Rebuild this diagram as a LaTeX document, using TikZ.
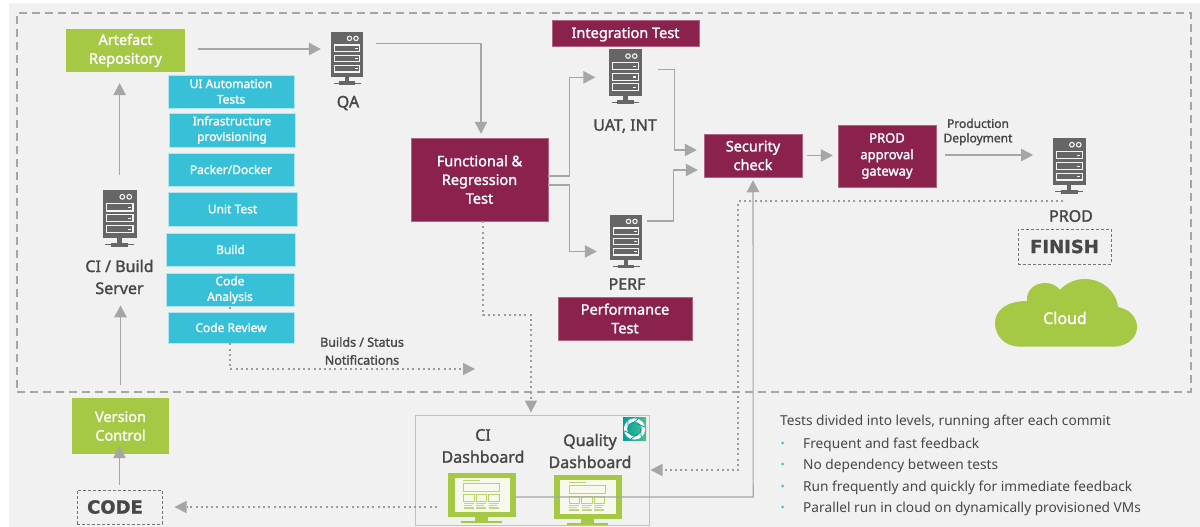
\documentclass[tikz,border=0pt]{standalone}
\usepackage{fontspec}
\setmainfont{Noto Sans}
\newfontfamily\semi[FakeBold=1.6]{Noto Sans}
\newfontfamily\heavy[FakeBold=1.2]{DejaVu Sans}
\usetikzlibrary{arrows.meta,calc}
\definecolor{bggray}{HTML}{F1F1F1}
\definecolor{linegray}{HTML}{A6A6A6}
\definecolor{dotgray}{HTML}{9C9C9C}
\definecolor{icongray}{HTML}{666666}
\definecolor{inkgray}{HTML}{474747}
\definecolor{lime}{HTML}{A5C845}
\definecolor{wine}{HTML}{8B214D}
\definecolor{cyanbox}{HTML}{38C0D8}
\newcommand{\fsize}[2]{\fontsize{#1}{#2}\selectfont}
\tikzset{
  x=1pt,y=-1pt,
  box/.style={inner sep=0pt,align=center,text=white,font=\semi\fsize{14.5}{18.7}},
  greenbox/.style={box,fill=lime},
  winebox/.style={box,fill=wine,draw=wine!70!white,line width=.5pt},
  cyan box/.style={box,fill=cyanbox,draw=cyanbox!40!white,line width=.6pt,font=\semi\fsize{12}{15.5}},
  darklabel/.style={inner sep=0pt,align=center,text=inkgray,font=\semi\fsize{16}{22}},
  smalllabel/.style={inner sep=0pt,align=center,text=inkgray,font=\semi\fsize{12}{14.5}},
  stepdash/.style={draw=icongray!90,densely dashed,line width=1pt,inner sep=0pt,text=inkgray,font=\heavy\bfseries\fsize{18}{20}},
  arr/.style={draw=linegray,line width=1.4pt,-{Triangle[length=12pt,width=12.5pt,fill=linegray]}},
  thin arr/.style={arr,line width=1.1pt},
  dotline/.style={draw=dotgray,line width=2pt,dash pattern=on 2pt off 3.2pt},
  dotarr/.style={dotline,-{Triangle[length=12pt,width=12.5pt,fill=linegray,line width=0pt]}},
  bullettext/.style={anchor=west,inner sep=0pt,text=inkgray,font=\fsize{13.7}{16}},
  dotb/.style={circle,fill=cyanbox,inner sep=0pt,minimum size=3pt},
  srvbox/.style={inner sep=0pt,minimum width=32pt,minimum height=54pt},
}
% server icon: left x, top y, scale, node name
\newcommand{\serverat}[4]{%
  \begin{scope}[shift={(#1,#2)},scale=#3]
    \fill[icongray] (0,0) rectangle (32,45);
    \foreach \yy in {13,23.2,33.4}{
      \draw[white!92!gray,line width=1.1pt] (3.5,\yy) rectangle (28.5,\yy+6.6);
      \fill[white!92!gray] (23.5,\yy+3) rectangle (26.5,\yy+4);
    }
    \draw[white!92!gray,line width=1.1pt] (18.5,6.4) circle (2.2);
    \draw[white!92!gray,line width=1.1pt] (25,6.4) circle (2.2);
    \fill[icongray] (14,45) rectangle (18,49.5);
    \fill[icongray] (8,49.5) rectangle (24,53);
    \fill[icongray] (2.5,50.7) rectangle (29.5,51.8);
    \coordinate (#4-nw) at (0,0);
    \coordinate (#4-se) at (32,54);
  \end{scope}%
  \node[srvbox] (#4) at ($(#4-nw)!.5!(#4-se)$) {};%
}
% monitor icon
\newcommand{\monitorat}[3]{%
  \begin{scope}[shift={(#1,#2)}]
    \fill[lime] (0,0) rectangle (68,44);
    \fill[lime] (27,44) rectangle (40,48);
    \fill[lime] (13,47.5) rectangle (54,50);
    \fill[white!90!lime] (6.5,4.5) rectangle (62,38.5);
    \fill[lime!80!white] (15,6.5) rectangle (32,8.2);
    \draw[lime!80!white,line width=.8pt] (15.5,10) rectangle (51.5,18);
    \foreach \xx in {15.5,28,40.5}{
      \draw[lime!80!white,line width=.8pt] (\xx,21) rectangle (\xx+10.7,28.5);
      \fill[lime!70!white] (\xx,30) rectangle (\xx+10,31.2);
      \fill[lime!70!white] (\xx,32.2) rectangle (\xx+8,33.4);
      \fill[lime!70!white] (\xx,34.4) rectangle (\xx+10,35.6);
    }
    \node[inner sep=0pt,minimum width=68pt,minimum height=50pt] (#3) at (34,25) {};
  \end{scope}%
}
\begin{document}
\begin{tikzpicture}
\useasboundingbox (0,0) rectangle (1200,527);
\fill[white] (0,0) rectangle (1200,527);
\fill[bggray] (9,3) rectangle (1200,527);
\node[draw=linegray,line width=1.4pt,dash pattern=on 8pt off 5pt,inner sep=0pt,minimum width=1174pt,minimum height=379pt] (zone) at (604,202.5) {};

% green boxes
\node[greenbox,minimum width=119pt,minimum height=43pt] (art) at (125.5,50.5) {Artefact\\Repository};
\node[greenbox,minimum width=97pt,minimum height=56pt] (vc) at (120.5,426) {Version\\Control};

% cyan stack
\node[cyan box,minimum width=126pt,minimum height=33pt] (ui) at (231,91.5) {UI Automation\\Tests};
\node[cyan box,minimum width=126pt,minimum height=34pt] (infra) at (232,130) {Infrastructure\\provisioning};
\node[cyan box,minimum width=126pt,minimum height=33pt] (packer) at (231,169.5) {Packer/Docker};
\node[cyan box,minimum width=129pt,minimum height=34pt] (unit) at (232.5,209) {Unit Test};
\node[cyan box,minimum width=129pt,minimum height=33pt] (build) at (230.5,249.5) {Build};
\node[cyan box,minimum width=128pt,minimum height=33pt] (ca) at (230,290) {Code\\Analysis};
\node[cyan box,minimum width=126pt,minimum height=31pt] (cr) at (231,327.5) {Code Review};

% wine boxes
\node[winebox,minimum width=137pt,minimum height=83pt] (func) at (479.5,179.5) {Functional \&\\Regression\\Test};
\node[winebox,minimum width=147pt,minimum height=26pt,text height=11.5pt,text depth=1.5pt] (integ) at (625.5,33) {Integration Test};
\node[winebox,minimum width=134pt,minimum height=43pt] (perft) at (625,318.5) {Performance\\Test};
\node[winebox,minimum width=98pt,minimum height=43pt] (sec) at (753,155.5) {Security\\check};
\node[winebox,minimum width=98pt,minimum height=62pt,font=\semi\fsize{13}{16.5}] (gate) at (887,156) {PROD\\approval\\gateway};

% servers
\serverat{331}{32}{1}{qa}
\serverat{102.5}{190}{1.07}{ci}
\serverat{609}{49.5}{1.03}{uat}
\serverat{610}{215}{1}{perf}
\serverat{1052.5}{138}{1.05}{prod}

% labels
\node[darklabel] (qal) at (348,103) {QA};
\node[darklabel] (cil) at (119.5,277) {CI / Build\\Server};
\node[darklabel] (uatl) at (625,126) {UAT, INT};
\node[darklabel] (perfl) at (627,284) {PERF};
\node[darklabel] (prodl) at (1071,216) {PROD};
\node[smalllabel] (deploy) at (978,132) {Production\\Deployment};
\node[smalllabel,font=\semi\fsize{12.5}{18}] (notif) at (362,351) {Builds / Status\\Notifications};

% dashed step boxes
\node[stepdash,minimum width=85pt,minimum height=34pt,text width=85pt,align=center] (code) at (119.5,507) {\hspace*{-9pt}CODE};
\node[stepdash,minimum width=93pt,minimum height=35pt,text width=93pt,align=center] (finish) at (1064.5,246.5) {FINISH};

% cloud
\path[fill=lime] (1020,346.7) .. controls (1005,346.7) and (995,336) .. (995,323)
  .. controls (995,310) and (1007,301) .. (1027,301)
  .. controls (1026,290) and (1035,283) .. (1045,283)
  .. controls (1052,283) and (1057,286) .. (1060,290)
  .. controls (1066,283) and (1075,279) .. (1085,279)
  .. controls (1102,279) and (1116,291) .. (1118,307)
  .. controls (1130,309) and (1137,318) .. (1137,327)
  .. controls (1137,338) and (1127,346.7) .. (1113,346.7) -- cycle;
\node[box,font=\semi\fsize{16}{20}] (cloud) at (1065,318) {Cloud};

% dashboard panel
\node[draw=linegray!70,fill=bggray,line width=1pt,inner sep=0pt,minimum width=234pt,minimum height=110pt] (dash) at (532,470) {};
\node[darklabel] (cid) at (483,446) {CI\\Dashboard};
\node[darklabel] (qd) at (590,451) {Quality\\Dashboard};
\monitorat{448}{473}{cim}
\monitorat{553.5}{475}{qm}
\shade[left color=teal!75!cyan,right color=teal!70!green!70!white] (623,417) rectangle (646,440);
\node[inner sep=0pt,minimum size=18pt,circle,draw=white,line width=3.2pt] (qicon) at (634.5,429) {};
\foreach \aa in {0,60,...,300}{
  \draw[teal!80!cyan,line width=.8pt] ($(qicon.center)+(\aa:6)$) -- ($(qicon.center)+(\aa+50:10.5)$);
}

% connectors
\coordinate (fbend) at (531,315);
\draw[arr,shorten <=13pt,shorten >=10pt] ([yshift=1.5pt]art.east) -- ([yshift=1.5pt]art.east -| qa.west);
\draw[arr,shorten <=17pt,shorten >=11pt] (ci.north) -- (ci.north |- art.south);
\draw[arr,shorten <=13pt,shorten >=11pt] (vc.north) -- (vc.north |- cil.south);
\draw[arr,shorten <=5pt,shorten >=-8pt] (code.north) -- (code.north |- vc.south);
\draw[thin arr,shorten >=4pt] ([xshift=13pt,yshift=15.5pt]qa.east) -| ([xshift=1.5pt]func.north);
\draw[thin arr,shorten >=14pt] ([yshift=3.5pt]func.east) -- ++(21,0) |- (uat.west);
\draw[thin arr,shorten >=13pt] ([yshift=-5.5pt]func.east) -- ++(21,0) |- ([yshift=-9.5pt]perf.west);
\draw[thin arr,shorten >=7pt] ([xshift=16pt,yshift=8pt]uat.east) -- ++(17,0) |- ([yshift=5.5pt]sec.west);
\draw[thin arr,shorten >=6pt] ([xshift=5pt,yshift=21pt]perf.east) -- ++(26,0) |- ([yshift=-14.5pt]sec.west);
\draw[arr,shorten <=5pt,shorten >=5pt] (sec.east) -- (gate.west |- sec.east);
\draw[arr,shorten <=9pt,shorten >=20pt] ([yshift=1pt]gate.east) -- ([yshift=1pt]gate.east -| prod.west);
\draw[thin arr,shorten >=3pt] ([yshift=1pt]cim.east) -- ++(237,0) -- (sec.south);
\draw[dotarr,shorten >=1pt] ([xshift=-6pt,yshift=-7.6pt]prod.south) -- ++(-325,0) |- (dash.east);
\draw[dotarr,shorten >=2pt] ([xshift=3.5pt]func.south) |- (fbend) -- (fbend |- dash.north);
\draw[dotline] (ca.south) -- (ca.south |- cr.north);
\draw[dotarr,shorten >=1pt] (ca.south |- cr.south) |- (476,369);
\draw[dotarr,shorten >=12pt] ([xshift=-11pt]cim.west |- code.east) -- (code.east);

% text block
\node[bullettext] (t0) at (780,422) {Tests divided into levels, running after each commit};
\node[bullettext] (t1) at (803,444.5) {Frequent and fast feedback};
\node[bullettext] (t2) at (803,465.5) {No dependency between tests};
\node[bullettext] (t3) at (803,487.5) {Run frequently and quickly for immediate feedback};
\node[bullettext] (t4) at (803,508.5) {Parallel run in cloud on dynamically provisioned VMs};
\foreach \yy/\nn in {443/b1,464/b2,486/b3,507/b4}{\node[dotb] (\nn) at (782.5,\yy) {};}
\end{tikzpicture}
\end{document}
